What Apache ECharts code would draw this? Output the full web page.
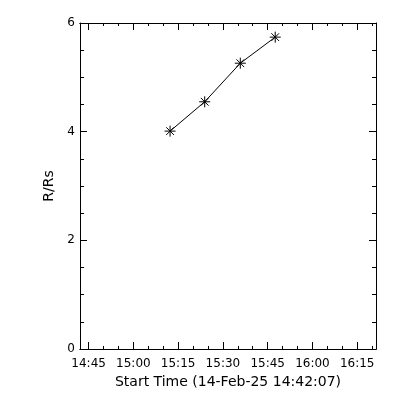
<!DOCTYPE html>
<html>
<head>
<meta charset="utf-8">
<script src="https://cdn.jsdelivr.net/npm/echarts@6/dist/echarts.min.js"></script>
<style>html,body{margin:0;padding:0;background:#fff;}#c{width:400px;height:400px;}</style>
</head>
<body>
<div id="c"></div>
<script>
const startTime = "14:42:07";
const endTime = "16:21:18";
const xTitle = "Start Time (14-Feb-25 14:42:07)";
const yTitle = "R/Rs";
const majorTicks = ["14:45","15:00","15:15","15:30","15:45","16:00","16:15"];
const minorTicks = ["14:45","14:50","14:55","15:00","15:05","15:10","15:15","15:20","15:25","15:30","15:35","15:40","15:45","15:50","15:55","16:00","16:05","16:10","16:15","16:20"];
const times = ["15:12:18","15:23:54","15:35:50","15:47:32"];
const values = [4.01, 4.55, 5.26, 5.74];
const yTicks = [0, 2, 4, 6];

function toMin(s){const p=s.split(":").map(Number);return p[0]*60+p[1]+(p[2]||0)/60;}
function fmt(v){const h=Math.floor(v/60+1e-6);const m=Math.round(v-h*60);return String(h).padStart(2,'0')+":"+String(m).padStart(2,'0');}

const xmin = toMin(startTime), xmax = toMin(endTime);
const majorVals = majorTicks.map(toMin);
const minorVals = minorTicks.map(toMin);
const font = {fontFamily:'DejaVu Sans', fontSize:12, color:'#000'};
const titleFont = {fontFamily:'DejaVu Sans', fontSize:14, color:'#000'};
const line = {show:true, lineStyle:{color:'#000', width:1}};

function xAx(pos, vals, len, labels){
  return {type:'value', gridIndex:0, position:pos, min:xmin, max:xmax,
    axisLine:line, splitLine:{show:false},
    axisTick:{show:true, inside:true, length:len, customValues:vals, lineStyle:{color:'#000',width:1}},
    axisLabel: labels ? Object.assign({show:true, customValues:majorVals, formatter:fmt, margin:9}, font) : {show:false},
    name: labels ? xTitle : '', nameLocation:'middle', nameGap:26, nameTextStyle:titleFont};
}
function yAx(pos, labels){
  return {type:'value', gridIndex:0, position:pos, min:yTicks[0], max:yTicks[yTicks.length-1], interval:yTicks[1]-yTicks[0],
    axisLine:line, splitLine:{show:false}, minorSplitLine:{show:false},
    axisTick:{show:true, inside:true, length:7, lineStyle:{color:'#000',width:1}},
    minorTick:{show:true, splitNumber:4, length:4, lineStyle:{color:'#000',width:1}},
    axisLabel: labels ? Object.assign({show:true, margin:5}, font) : {show:false},
    name: labels ? yTitle : '', nameLocation:'middle', nameGap:15, nameTextStyle:titleFont};
}

const chart = echarts.init(document.getElementById('c'), null, {renderer:'canvas'});
chart.setOption({
  animation:false,
  backgroundColor:'#fff',
  grid:{left:80, right:24, top:23, bottom:51},
  xAxis:[xAx('bottom', majorVals, 7, true), xAx('bottom', minorVals, 3, false), xAx('top', majorVals, 7, false), xAx('top', minorVals, 3, false)],
  yAxis:[yAx('left', true), yAx('right', false)],
  series:[{
    type:'line', xAxisIndex:0, yAxisIndex:0,
    data: times.map((t,i)=>[toMin(t), values[i]]),
    lineStyle:{color:'#000', width:1},
    symbol:'path://M5 0L5 10M0 5L10 5M1.5 1.5L8.5 8.5M8.5 1.5L1.5 8.5',
    symbolSize:11,
    itemStyle:{color:'none', borderColor:'#000', borderWidth:1},
    emphasis:{disabled:true}
  }]
});
</script>
</body>
</html>
